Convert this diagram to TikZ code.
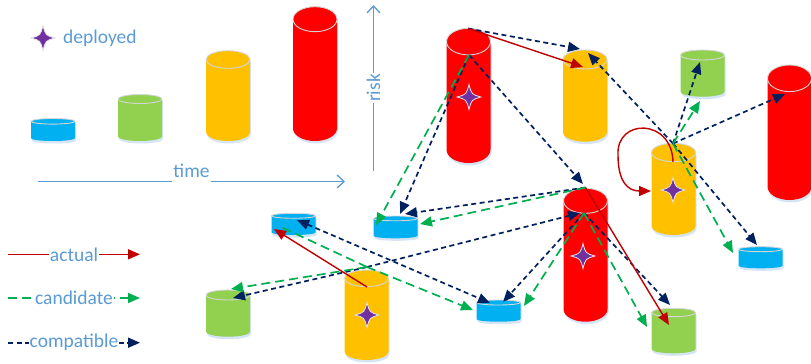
\documentclass[tikz,border=0pt]{standalone}
\usepackage{fontspec}
\setmainfont{Carlito}
\usetikzlibrary{arrows.meta}

\definecolor{cylred}{RGB}{255,0,0}
\definecolor{cylyellow}{RGB}{255,192,0}
\definecolor{cylgreen}{RGB}{146,208,80}
\definecolor{cylblue}{RGB}{0,176,240}
\definecolor{rimgray}{RGB}{214,214,214}
\definecolor{glowblue}{RGB}{196,218,242}
\definecolor{starpurple}{RGB}{112,48,160}
\definecolor{actualred}{RGB}{192,0,0}
\definecolor{candgreen}{RGB}{0,176,80}
\definecolor{compnavy}{RGB}{0,32,96}
\definecolor{labelblue}{RGB}{91,155,213}

% outline of an upright drum: centre x, top y, bottom y, rim half-height
\newcommand\drumpath[4]{({#1-22},{#2+#4}) -- ({#1-22},{#3-#4})
  arc[start angle=180,end angle=360,x radius=22pt,y radius=#4pt]
  -- ({#1+22},{#2+#4})
  arc[start angle=0,end angle=180,x radius=22pt,y radius=#4pt] -- cycle}

% drum: name, centre x, top y, bottom y, rim half-height, colour
\newcommand\drum[6]{%
  \fill[glowblue,opacity=0.7,xshift=1pt,yshift=-2.5pt] \drumpath{#2}{#3}{#4}{#5};
  \fill[#6] \drumpath{#2}{#3}{#4}{#5};
  \draw[rimgray,line width=0.9pt] (#2,{#3+#5}) ellipse[x radius=22pt,y radius=#5pt];
  \coordinate (#1) at (#2,{(#3+#4)/2});
}

% four-pointed marker for deployed versions: name, position
\newcommand\sparkle[2]{%
  \coordinate (#1) at (#2);
  \filldraw[fill=starpurple,draw=white!80!gray,line width=0.8pt]
    ([yshift=12.5pt]#1) .. controls ([xshift=2.6pt,yshift=2.6pt]#1) .. ([xshift=12pt]#1)
    .. controls ([xshift=2.6pt,yshift=-2.6pt]#1) .. ([yshift=-12.5pt]#1)
    .. controls ([xshift=-2.6pt,yshift=-2.6pt]#1) .. ([xshift=-12pt]#1)
    .. controls ([xshift=-2.6pt,yshift=2.6pt]#1) .. ([yshift=12.5pt]#1) -- cycle;
}

\tikzset{
  tip/.style={-{Triangle[length=12pt,width=10pt]}},
  actual/.style={actualred,line width=1.4pt,tip},
  cand/.style={candgreen,line width=1.7pt,dash pattern=on 9pt off 5pt,tip},
  compat/.style={compnavy,line width=1.7pt,dash pattern=on 5pt off 3.5pt,tip},
  axis/.style={labelblue,line width=1.3pt},
  axistip/.style={-{Straight Barb[length=7pt,width=13pt]}},
  lbl/.style={text=labelblue,font=\fontsize{19.5}{22}\selectfont,inner sep=1pt},
}

\begin{document}
\begin{tikzpicture}[x=1pt,y=-1pt]
\useasboundingbox (0,0) rectangle (811,364);

% ---------- size scale ----------
\drum{LB}{53}{118.5}{141}{2.8}{cylblue}
\drum{LG}{140}{94.5}{141}{4.5}{cylgreen}
\drum{LY}{228}{50.7}{141}{8.8}{cylyellow}
\drum{LR}{315}{6.7}{141}{12.5}{cylred}

\sparkle{dep-star}{43,38}
\node[lbl,anchor=base west] (dep-lbl) at (62,43.3) {deployed};

% time axis
\coordinate (time-a) at (38,181.5);
\coordinate (time-b) at (345,181.5);
\node[lbl,anchor=base] (time-lbl) at (191.5,177) {time};
\draw[axis] (time-a) -- (time-lbl.west |- time-a);
\draw[axis,axistip] (time-lbl.east |- time-a) -- (time-b);

% risk axis
\coordinate (risk-a) at (373.5,171);
\coordinate (risk-b) at (373.5,5);
\node[lbl,rotate=90,anchor=base] (risk-lbl) at (380,88) {risk};
\draw[axis] (risk-a) -- (risk-a |- risk-lbl.west);
\draw[axis,axistip] (risk-a |- risk-lbl.east) -- (risk-b);

% ---------- legend of edge kinds ----------
\coordinate (act-a) at (8,254.3);   \coordinate (act-b) at (140,254.3);
\coordinate (cand-a) at (8,298);    \coordinate (cand-b) at (140,298);
\coordinate (comp-a) at (8,342.7);  \coordinate (comp-b) at (140,342.7);
\draw[actual] (act-a) -- (act-b) node[midway,lbl,fill=white] (act-lbl) {actual};
\draw[cand] (cand-a) -- (cand-b) node[midway,lbl,fill=white] (cand-lbl) {candidate};
\draw[compat] (comp-a) -- (comp-b) node[midway,lbl,fill=white] (comp-lbl) {compatible};

% ---------- version graph ----------
\drum{R1}{468.5}{28.3}{163}{13.3}{cylred}
\drum{Y1}{585}{50}{141.7}{9.5}{cylyellow}
\drum{G1}{702.5}{50}{96.7}{5}{cylgreen}
\drum{R2}{789.5}{65}{200}{13.3}{cylred}
\drum{Y2}{673.5}{143.3}{235}{9.2}{cylyellow}
\drum{B1}{760.5}{246.7}{268.3}{2.5}{cylblue}
\drum{R3}{585.5}{188.3}{321.7}{12.5}{cylred}
\drum{B2}{498.5}{300}{321.7}{2.5}{cylblue}
\drum{G2}{673.5}{308.3}{353.3}{4.2}{cylgreen}
\drum{B3}{293.5}{213.3}{235}{2.5}{cylblue}
\drum{B4}{395.5}{216}{238.3}{2.4}{cylblue}
\drum{Y3}{366.5}{270}{360}{8.3}{cylyellow}
\drum{G3}{228}{290}{336.7}{5}{cylgreen}

\sparkle{R1-star}{469,97}
\sparkle{Y2-star}{673,190}
\sparkle{R3-star}{583,256}
\sparkle{Y3-star}{367,315}

% sources on the deployed drums
\coordinate (R1-back) at (468,28.5);
\coordinate (R1-front) at (469,55);
\coordinate (Y2-hub) at (673,143.5);
\coordinate (Y2-front) at (673,162);
\coordinate (Y2-side) at (651,191);
\coordinate (R3-back) at (585.5,187.5);
\coordinate (R3-front) at (584,213);
\coordinate (Y3-hub) at (367,267);
\coordinate (Y3-front) at (367,287);

% arrival points
\coordinate (Y1-in-red) at (583,67);
\coordinate (Y1-in-r1) at (580,49);
\coordinate (Y1-in-y2) at (588,53);
\coordinate (G1-in-comp) at (700,62);
\coordinate (G1-in-cand) at (700,101);
\coordinate (R2-in) at (785,94);
\coordinate (B1-in-comp) at (757,245);
\coordinate (B1-in-cand) at (733,253);
\coordinate (R3-in-r1) at (583,184);
\coordinate (R3-in-y3) at (580,213);
\coordinate (B4-in-r1) at (400,214);
\coordinate (B4-in-r3) at (405,214);
\coordinate (B4-in-cand-r1) at (376,225);
\coordinate (B4-in-cand-r3) at (420,224);
\coordinate (G3-in-comp) at (233,298);
\coordinate (G3-in-cand) at (231,289);
\coordinate (B3-in-red) at (274,229);
\coordinate (B3-in-comp) at (297,220);
\coordinate (B3-in-cand) at (281,227);
\coordinate (B2-in-b3) at (490,303);
\coordinate (B2-in-cand-y3) at (473,310);
\coordinate (B2-in-comp-r3) at (503,302);
\coordinate (B2-in-cand-r3) at (524,306);
\coordinate (G2-in-comp) at (670,305);
\coordinate (G2-in-cand) at (647,327);
\coordinate (G2-in-red) at (669,325);

% compatible
\draw[compat] (R1-back) -- (Y1-in-r1);
\draw[compat] (Y2-hub) -- (Y1-in-y2);
\draw[compat] (Y2-hub) -- (B1-in-comp);
\draw[compat] (Y2-hub) -- (G1-in-comp);
\draw[compat] (Y2-hub) -- (R2-in);
\draw[compat] (R1-front) -- (R3-in-r1);
\draw[compat] (R1-front) -- (B4-in-r1);
\draw[compat] (R3-back) -- (B4-in-r3);
\draw[compat] (Y3-hub) -- (R3-in-y3);
\draw[compat] (Y3-hub) -- (G3-in-comp);
\draw[compat,{Triangle[length=12pt,width=10pt]}-{Triangle[length=12pt,width=10pt]}] (B3-in-comp) -- (B2-in-b3);
\draw[compat] (R3-front) -- (B2-in-comp-r3);
\draw[compat] (R3-front) -- (G2-in-comp);

% candidate
\draw[cand] (R1-front) -- (B4-in-cand-r1);
\draw[cand] (R3-back) -- (B4-in-cand-r3);
\draw[cand] (Y3-hub) -- (G3-in-cand);
\draw[cand] (Y3-hub) -- (B2-in-cand-y3);
\draw[cand,-] (Y3-hub) -- (B3-in-cand);
\draw[cand] (R3-front) -- (B2-in-cand-r3);
\draw[cand] (R3-front) -- (G2-in-cand);
\draw[cand] (Y2-hub) -- (G1-in-cand);
\draw[cand] (Y2-hub) -- (B1-in-cand);

% actual
\draw[actual] (R1-back) -- (Y1-in-red);
\draw[actual] (Y2-front) .. controls (672,118) and (616,118) .. (618,155)
  .. controls (618,182) and (628,191) .. (Y2-side);
\draw[actual] (R3-back) -- (G2-in-red);
\draw[actual] (Y3-front) -- (B3-in-red);

\end{tikzpicture}
\end{document}
